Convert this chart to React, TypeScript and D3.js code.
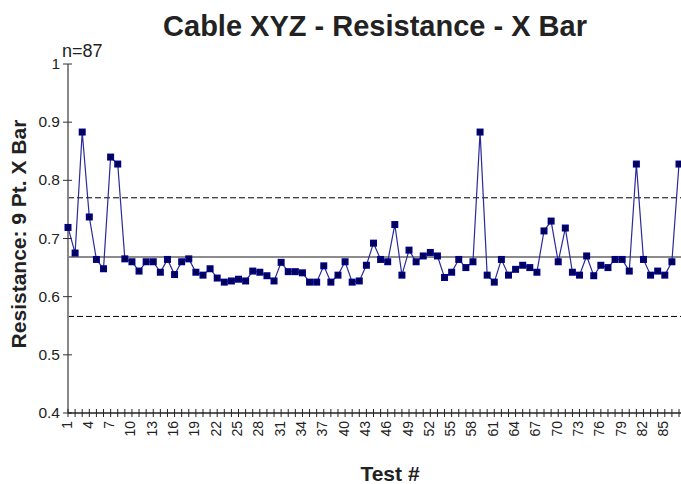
import * as d3 from "d3";

const WIDTH = 681;
const HEIGHT = 484;
const MARGIN = { top: 64, right: 1, bottom: 71, left: 68 };

const TITLE = "Cable XYZ - Resistance - X Bar";
const Y_LABEL = "Resistance: 9 Pt. X Bar";
const X_LABEL = "Test #";
const SAMPLE_NOTE = "n=87";

const tests = d3.range(1, 88);
const xBar = [
  0.719, 0.675, 0.883, 0.737, 0.664, 0.648, 0.84, 0.828, 0.665, 0.66,
  0.644, 0.66, 0.66, 0.642, 0.664, 0.638, 0.66, 0.665, 0.642, 0.637,
  0.648, 0.632, 0.625, 0.627, 0.63, 0.627, 0.644, 0.642, 0.636, 0.627,
  0.659, 0.643, 0.643, 0.641, 0.625, 0.625, 0.653, 0.625, 0.637, 0.66,
  0.625, 0.627, 0.654, 0.692, 0.664, 0.66, 0.724, 0.637, 0.68, 0.66,
  0.67, 0.676, 0.67, 0.633, 0.642, 0.664, 0.65, 0.66, 0.883, 0.637,
  0.625, 0.664, 0.637, 0.647, 0.654, 0.65, 0.642, 0.713, 0.73, 0.66,
  0.718, 0.642, 0.637, 0.67, 0.636, 0.654, 0.65, 0.664, 0.664, 0.644,
  0.828, 0.664, 0.637, 0.644, 0.637, 0.66, 0.828,
];
const centerLine = 0.668;
const upperLimit = 0.77;
const lowerLimit = 0.566;
const yTicks = [0.4, 0.5, 0.6, 0.7, 0.8, 0.9, 1];
const xTickLabels = d3.range(1, 88, 3);

const FONT = "'Liberation Sans', Arial, Helvetica, sans-serif";

export default function App() {
  const x = d3
    .scaleLinear()
    .domain([1, 87])
    .range([MARGIN.left, WIDTH - MARGIN.right - 1]);
  const y = d3
    .scaleLinear()
    .domain([0.4, 1])
    .range([HEIGHT - MARGIN.bottom, MARGIN.top]);

  const line = d3
    .line<number>()
    .x((_, i) => x(tests[i]))
    .y((v) => y(v));

  const x0 = x(1);
  const x1 = WIDTH;
  const yBottom = y(0.4);

  return (
    <svg
      width={WIDTH}
      height={HEIGHT}
      style={{ position: "absolute", left: 0, top: 0, background: "#fff" }}
      fontFamily={FONT}
    >
      <text
        x={375}
        y={36}
        textAnchor="middle"
        fontSize={29}
        fontWeight="bold"
        fill="#222"
      >
        {TITLE}
      </text>
      <text x={62} y={57} fontSize={18} fill="#222">
        {SAMPLE_NOTE}
      </text>
      <text
        transform={`translate(26, 234) rotate(-90)`}
        textAnchor="middle"
        fontSize={21}
        fontWeight="bold"
        fill="#222"
      >
        {Y_LABEL}
      </text>
      <text
        x={390}
        y={481}
        textAnchor="middle"
        fontSize={21}
        fontWeight="bold"
        fill="#222"
      >
        {X_LABEL}
      </text>

      {/* control limits */}
      <line
        x1={x0}
        x2={x1}
        y1={y(upperLimit)}
        y2={y(upperLimit)}
        stroke="#000"
        strokeWidth={1}
        strokeDasharray="6 3"
      />
      <line
        x1={x0}
        x2={x1}
        y1={y(lowerLimit)}
        y2={y(lowerLimit)}
        stroke="#000"
        strokeWidth={1}
        strokeDasharray="6 3"
      />
      <line
        x1={x0}
        x2={x1}
        y1={y(centerLine)}
        y2={y(centerLine)}
        stroke="#666"
        strokeWidth={1.5}
      />

      {/* y axis */}
      <line x1={x0} x2={x0} y1={y(1)} y2={yBottom} stroke="#888" strokeWidth={2} />
      {yTicks.map((t) => (
        <g key={t}>
          <line x1={x0 - 5} x2={x0 + 4} y1={y(t)} y2={y(t)} stroke="#333" />
          <text
            x={x0 - 8}
            y={y(t) + 5}
            textAnchor="end"
            fontSize={15.5}
            fill="#222"
          >
            {t === 1 ? "1" : t.toFixed(1)}
          </text>
        </g>
      ))}

      {/* x axis */}
      <line x1={x0} x2={x1} y1={yBottom} y2={yBottom} stroke="#222" strokeWidth={1.5} />
      {tests.map((t) => (
        <line
          key={t}
          x1={x(t)}
          x2={x(t)}
          y1={yBottom - 4}
          y2={yBottom + 4}
          stroke="#222"
          strokeWidth={1}
        />
      ))}
      {xTickLabels.map((t) => (
        <text
          key={t}
          transform={`translate(${x(t) + 3.5}, ${yBottom + 8}) rotate(-90)`}
          textAnchor="end"
          fontSize={14}
          fill="#222"
        >
          {t}
        </text>
      ))}

      {/* series */}
      <path d={line(xBar) ?? ""} fill="none" stroke="#2a2a99" strokeWidth={1.2} />
      {xBar.map((v, i) => {
        const cx = x(tests[i]);
        const cy = y(v);
        return (
          <g key={i}>
            <rect x={cx - 3.5} y={cy - 3.5} width={7} height={7} fill="#000080" />
            <path
              d={`M${cx - 1.5},${cy - 1.5}L${cx + 1.5},${cy + 1.5}M${cx + 1.5},${cy - 1.5}L${cx - 1.5},${cy + 1.5}`}
              stroke="#000"
              strokeWidth={1}
            />
          </g>
        );
      })}
    </svg>
  );
}
